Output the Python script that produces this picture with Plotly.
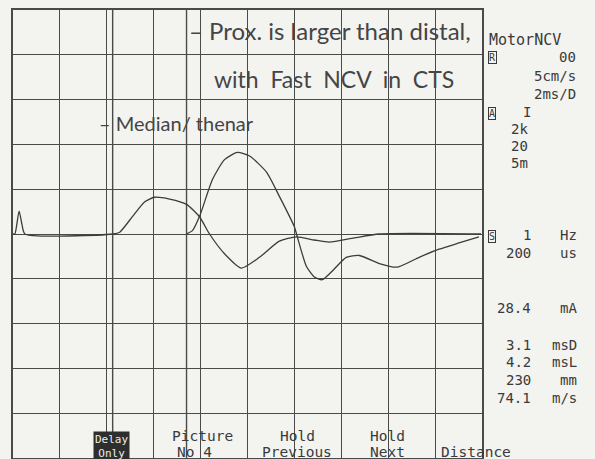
import plotly.graph_objects as go

# ---- data (time in ms, amplitude in mV) ----
distal_t = [0, 0.08, 0.26, 0.38, 0.51, 4.26, 4.55, 5.11, 5.62, 6.04, 6.68, 7.40, 7.96, 8.38,
            9.02, 9.74, 10.51, 11.36, 12.09, 12.85, 13.49, 14.55, 15.62, 19.96]
distal_v = [0, 0, 2.56, 1.1, 0, 0, 0.2, 2.0, 3.6, 4.1, 3.9, 3.3, 1.9, 0,
            -2.2, -3.8, -2.6, -0.8, -0.33, -0.67, -0.9, -0.44, 0, 0]

prox_t = [7.40, 7.66, 7.96, 8.51, 9.02, 9.57, 10.09, 10.81, 11.36, 12.0, 12.09, 12.51, 12.85,
          13.19, 13.70, 14.21, 14.77, 15.62, 16.38, 17.32, 18.17, 19.02, 19.87]
prox_v = [0, 0.4, 2.0, 6.1, 8.3, 9.1, 8.7, 6.9, 4.2, 0.8, 0, -3.6, -4.8,
          -5.1, -3.9, -2.6, -2.4, -3.3, -3.7, -2.6, -1.7, -1.0, -0.33]

markers_ms = [4.25, 7.40]

notes = ["– Prox. is larger than distal,", "with  Fast  NCV  in  CTS", "– Median/ thenar"]

head_label = "MotorNCV"
box_letters = ["R", "A", "S"]
set_values = ["00", "5cm/s", "2ms/D", "I", "2k", "20", "5m"]
stim_nums = ["1", "200"]
stim_units = ["Hz", "us"]
meas_nums = ["28.4", "3.1", "4.2", "230", "74.1"]
meas_units = ["mA", "msD", "msL", "mm", "m/s"]
menu_top = ["Picture", "Hold", "Hold", ""]
menu_bot = ["No 4", "Previous", "Next", "Distance"]

# ---- figure ----
W, H = 595, 459
L, R, T, B = 13, 482, 10, 458
INK = "#3c3c3c"
GRID = "#4a4a4a"
PAPER = "#f3f3f0"

def px(x):
    return (x - L) / (R - L)

def py(y):
    return (B - y) / (B - T)

fig = go.Figure()
for m in markers_ms:
    fig.add_trace(go.Scatter(x=[m, m], y=[-25, 25], mode="lines",
                             line=dict(color=GRID, width=1.4), hoverinfo="skip", showlegend=False))
fig.add_trace(go.Scatter(x=distal_t, y=distal_v, mode="lines",
                         line=dict(color=INK, width=1.3, shape="spline", smoothing=0.6), showlegend=False))
fig.add_trace(go.Scatter(x=prox_t, y=prox_v, mode="lines",
                         line=dict(color=INK, width=1.3, shape="spline", smoothing=0.6), showlegend=False))

ann = []
txtfont = dict(family="Lato, Open Sans, sans-serif", size=24, color="#454545")
ann.append(dict(x=19.6, y=22.7, xref="x", yref="y", text=notes[0], showarrow=False,
                xanchor="right", yanchor="middle", font=txtfont))
ann.append(dict(x=8.49, y=17.3, xref="x", yref="y", text=notes[1], showarrow=False,
                xanchor="left", yanchor="middle", font=dict(txtfont, size=23)))
ann.append(dict(x=3.58, y=12.4, xref="x", yref="y", text=notes[2], showarrow=False,
                xanchor="left", yanchor="middle",
                font=dict(family="Lato, Open Sans, sans-serif", size=20, color="#454545")))

mono = dict(family="DejaVu Sans Mono, monospace", size=14, color="#3a3a3a")
boxfont = dict(family="DejaVu Sans Mono", size=10, color="#3a3a3a")

def txt(x, y, s, anchor="left", font=mono, **kw):
    ann.append(dict(x=px(x), y=py(y), xref="paper", yref="paper", text=s, showarrow=False,
                    xanchor=anchor, yanchor="middle", font=font, **kw))

def box(x, y, s):
    txt(x, y, s, "left", boxfont, bordercolor="#3a3a3a", borderwidth=1, borderpad=0)

# right panel
txt(487, 40, head_label, font=dict(mono, size=15))
box(488, 58, box_letters[0])
txt(578, 57, set_values[0], "right")
txt(578, 76, set_values[1], "right")
txt(578, 94, set_values[2], "right")
box(488, 113, box_letters[1])
txt(533, 112, set_values[3], "right")
txt(509, 129, set_values[4])
txt(509, 146, set_values[5])
txt(509, 163, set_values[6])
box(488, 236, box_letters[2])
for n, u, yy in zip(stim_nums, stim_units, [235, 253]):
    txt(533, yy, n, "right")
    txt(579, yy, u, "right")
for n, u, yy in zip(meas_nums, meas_units, [308, 345, 362, 380, 398]):
    txt(533, yy, n, "right")
    txt(579, yy, u, "right")

# bottom menu
txt(111, 446, "Delay<br>Only", "center",
    dict(family="DejaVu Sans Mono", size=11, color="#ececec"), bgcolor="#2e2e2e", borderpad=1)
menu_font = dict(family="DejaVu Sans Mono, monospace", size=14.5, color="#3a3a3a")
for mx, top, bot in zip([202, 297, 387, 476], menu_top, menu_bot):
    if top:
        txt(mx, 436, top, "center", menu_font)
    txt(mx - 8 if bot == "No 4" else mx, 452, bot, "center", menu_font)

axis_common = dict(showgrid=True, gridcolor=GRID, gridwidth=1.3, zeroline=False,
                   showticklabels=False, ticks="", showline=True, linecolor=GRID, linewidth=1.5, mirror=True)
fig.update_layout(
    width=W, height=H,
    margin=dict(l=L, r=W - R, t=T, b=H - B),
    paper_bgcolor=PAPER, plot_bgcolor=PAPER,
    xaxis=dict(range=[0, 20], dtick=2, tick0=0, **axis_common),
    yaxis=dict(range=[-25, 25], dtick=5, tick0=0, **axis_common),
    annotations=ann,
    showlegend=False,
)
fig.write_html("out.html", config={"displayModeBar": False},
               post_script="document.body.style.margin='0';")
